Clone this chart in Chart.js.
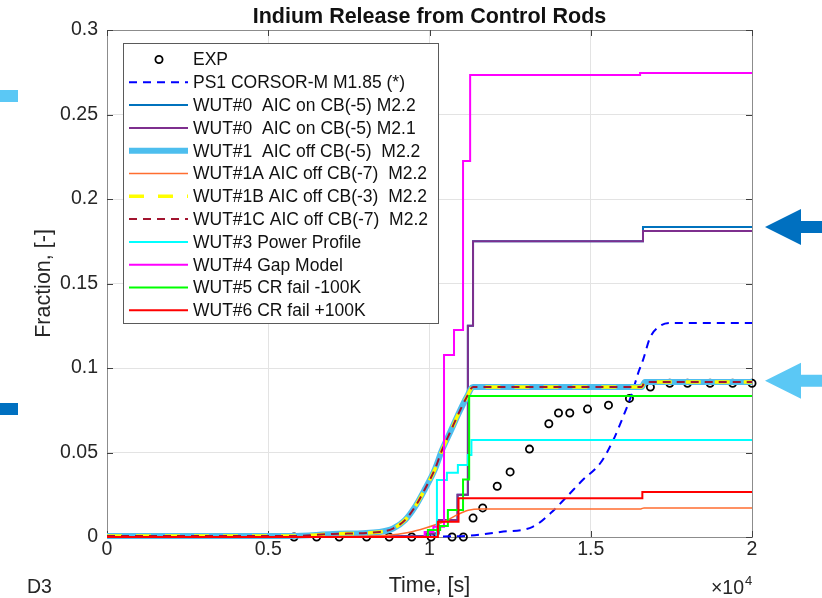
<!DOCTYPE html>
<html>
<head>
<meta charset="utf-8">
<script src="https://cdn.jsdelivr.net/npm/chart.js@4.4.1/dist/chart.umd.min.js"></script>
<style>
  html, body { margin: 0; padding: 0; background: #fff; }
  #wrap { width: 822px; height: 598px; }
</style>
</head>
<body>
<div id="wrap"><canvas id="releaseChart" width="822" height="598"></canvas></div>
<script>
// --- data (time in s, fraction released) ---
const xTickLabels = ['0', '0.5', '1', '1.5', '2'];
const yTickLabels = ['0', '0.05', '0.1', '0.15', '0.2', '0.25', '0.3'];

const expTime = [5800, 6500, 7200, 8050, 8750, 9450, 10050, 10700, 11050, 11350, 11650, 12100, 12500, 13100, 13700, 14000, 14350, 14900, 15550, 16200, 16850, 17450, 18000, 18700, 19400, 20000];
const expFrac = [0, 0, 0, 0, 0, 0, 0, 0, 0, 0.0112, 0.0172, 0.030, 0.0385, 0.052, 0.067, 0.0734, 0.0734, 0.0757, 0.078, 0.082, 0.0887, 0.091, 0.091, 0.091, 0.091, 0.091];

const ps1Time = [0, 10000, 11250, 12200, 13200, 13750, 14250, 14750, 15300, 15700, 16000, 16280, 16470, 16620, 16840, 17100, 17450, 20000];
const ps1Frac = [0, 0.0003, 0.0008, 0.003, 0.006, 0.014, 0.0237, 0.0337, 0.0438, 0.0574, 0.071, 0.085, 0.097, 0.1047, 0.118, 0.1242, 0.1266, 0.1266];

const wut0Time = [0, 9900, 10280, 10870, 11190, 11350, 16620, 20000];
const wut0m22Frac = [0.0005, 0.002, 0.010, 0.025, 0.125, 0.175, 0.1834, 0.1834];
const wut0m21Frac = [0.0005, 0.002, 0.010, 0.025, 0.125, 0.175, 0.181, 0.181];

const wut1Time = [0, 5700, 7000, 8450, 8870, 9240, 9550, 9860, 10170, 10390, 10640, 10950, 11160, 11350, 16580, 16680, 20000];
const wut1Frac = [0.0006, 0.0006, 0.0018, 0.003, 0.005, 0.010, 0.0178, 0.0284, 0.0402, 0.0515, 0.062, 0.075, 0.083, 0.0888, 0.0888, 0.0917, 0.0917];
// 1B and 1C lie right on top of WUT#1
const wut1bFrac = [0.0006, 0.0006, 0.0018, 0.003, 0.005, 0.010, 0.0178, 0.0284, 0.0402, 0.0515, 0.062, 0.075, 0.083, 0.0888, 0.0888, 0.0917, 0.0917];
const wut1cFrac = [0.0006, 0.0006, 0.0018, 0.003, 0.005, 0.010, 0.0178, 0.0284, 0.0402, 0.0515, 0.062, 0.075, 0.083, 0.0888, 0.0888, 0.0917, 0.0917];

const wut1aTime = [0, 7500, 8700, 9300, 9900, 10500, 10900, 11200, 11600, 16550, 16650, 20000];
const wut1aFrac = [0, 0.0003, 0.001, 0.0025, 0.0055, 0.0095, 0.0135, 0.0158, 0.0166, 0.0166, 0.0172, 0.0172];

const wut3Time = [0, 10230, 10540, 10880, 11190, 11300, 20000];
const wut3Frac = [0, 0.0337, 0.038, 0.0426, 0.0485, 0.0574, 0.0574];

const wut4Time = [0, 9850, 10120, 10450, 10760, 11040, 11260, 16530, 20000];
const wut4Frac = [0, 0.003, 0.006, 0.1077, 0.1225, 0.2225, 0.2734, 0.2746, 0.2746];

const wut5Time = [0, 9950, 10330, 10570, 11040, 11230, 20000];
const wut5Frac = [0, 0.0041, 0.0065, 0.016, 0.034, 0.0834, 0.0834];

const wut6Time = [0, 10260, 10900, 16600, 20000];
const wut6Frac = [0, 0.009, 0.023, 0.0266, 0.0266];

const FONT = "'Liberation Sans', Arial, Helvetica, sans-serif";
const TXT = '#262626';

const pts = (t, f) => t.map((v, i) => ({ x: v, y: f[i] }));

// label, points, colour, width, dash, stepped
const seriesDefs = [
    { label: 'EXP', data: pts(expTime, expFrac), marker: true },
    { label: 'PS1 CORSOR-M M1.85 (*)', data: pts(ps1Time, ps1Frac), color: '#0000ff', width: 2, dash: [8, 6] },
    { label: 'WUT#0  AIC on CB(-5) M2.2', data: pts(wut0Time, wut0m22Frac), color: '#0072bd', width: 2, stepped: true },
    { label: 'WUT#0  AIC on CB(-5) M2.1', data: pts(wut0Time, wut0m21Frac), color: '#7e2f8e', width: 2, stepped: true },
    { label: 'WUT#1  AIC off CB(-5)  M2.2', data: pts(wut1Time, wut1Frac), color: '#4dbeee', width: 6 },
    { label: 'WUT#1A AIC off CB(-7)  M2.2', data: pts(wut1aTime, wut1aFrac), color: '#ff6e30', width: 1.5 },
    { label: 'WUT#1B AIC off CB(-3)  M2.2', data: pts(wut1Time, wut1bFrac), color: '#ffff00', width: 3.5, dash: [15, 14] },
    { label: 'WUT#1C AIC off CB(-7)  M2.2', data: pts(wut1Time, wut1cFrac), color: '#a2142f', width: 2, dash: [8, 6] },
    { label: 'WUT#3 Power Profile', data: pts(wut3Time, wut3Frac), color: '#00ffff', width: 2, stepped: true },
    { label: 'WUT#4 Gap Model', data: pts(wut4Time, wut4Frac), color: '#ff00ff', width: 2, stepped: true },
    { label: 'WUT#5 CR fail -100K', data: pts(wut5Time, wut5Frac), color: '#00ff00', width: 2, stepped: true },
    { label: 'WUT#6 CR fail +100K', data: pts(wut6Time, wut6Frac), color: '#ff0000', width: 2, stepped: true }
];

const N = seriesDefs.length;
const datasets = seriesDefs.map((s, i) => {
    if (s.marker) {
        return {
            label: s.label, data: s.data, showLine: false, clip: false,
            pointRadius: 3.6, pointBorderWidth: 1.8, pointBorderColor: '#000',
            pointBackgroundColor: 'rgba(0,0,0,0)', order: N - 1 - i
        };
    }
    return {
        label: s.label, data: s.data, showLine: true, clip: false,
        borderColor: s.color, borderWidth: s.width, borderDash: s.dash || [],
        stepped: s.stepped ? 'before' : false,
        cubicInterpolationMode: s.stepped ? 'default' : 'monotone',
        pointRadius: 0, fill: false, order: N - 1 - i
    };
});

// --- axes box, inward ticks ---
const matlabFrame = {
    id: 'matlabFrame',
    beforeDatasetsDraw(chart) {
        const { ctx, chartArea: a, scales: { x, y } } = chart;
        ctx.save();
        ctx.strokeStyle = '#8c8c8c';
        ctx.lineWidth = 1;
        ctx.strokeRect(a.left + 0.5, a.top + 0.5, a.right - a.left, a.bottom - a.top);
        ctx.strokeStyle = '#404040';
        ctx.beginPath();
        x.ticks.forEach(t => {
            const px = Math.round(x.getPixelForValue(t.value)) + 0.5;
            ctx.moveTo(px, a.bottom); ctx.lineTo(px, a.bottom - 6);
            ctx.moveTo(px, a.top); ctx.lineTo(px, a.top + 6);
        });
        y.ticks.forEach(t => {
            const py = Math.round(y.getPixelForValue(t.value)) + 0.5;
            ctx.moveTo(a.left, py); ctx.lineTo(a.left + 6, py);
            ctx.moveTo(a.right, py); ctx.lineTo(a.right - 6, py);
        });
        ctx.stroke();
        ctx.restore();
    },
    afterDatasetsDraw(chart) {
        const { ctx, chartArea: a, scales: { x, y } } = chart;
        ctx.save();

        // legend box
        const lx = 123, ly = 43, lw = 315, lh = 280;
        ctx.fillStyle = '#fff';
        ctx.fillRect(lx, ly, lw, lh);
        ctx.strokeStyle = '#5a5a5a';
        ctx.lineWidth = 1;
        ctx.strokeRect(lx + 0.5, ly + 0.5, lw, lh);
        ctx.font = `17.5px ${FONT}`;
        ctx.textBaseline = 'middle';
        ctx.textAlign = 'left';
        seriesDefs.forEach((s, i) => {
            const ry = 59.5 + i * 22.8;
            if (s.marker) {
                ctx.beginPath();
                ctx.strokeStyle = '#000';
                ctx.lineWidth = 1.8;
                ctx.arc(159, ry, 3.6, 0, Math.PI * 2);
                ctx.stroke();
            } else {
                ctx.beginPath();
                ctx.strokeStyle = s.color;
                ctx.lineWidth = s.width;
                ctx.setLineDash(s.dash || []);
                ctx.moveTo(129, ry);
                ctx.lineTo(188, ry);
                ctx.stroke();
                ctx.setLineDash([]);
            }
            ctx.fillStyle = '#111';
            ctx.fillText(s.label, 193, ry + 1);
        });

        // title and axis labels
        ctx.fillStyle = '#111';
        ctx.textBaseline = 'alphabetic';
        ctx.textAlign = 'center';
        ctx.font = `bold 21.5px ${FONT}`;
        ctx.fillText('Indium Release from Control Rods', (a.left + a.right) / 2, 23);
        ctx.fillStyle = TXT;
        ctx.font = `21.5px ${FONT}`;
        ctx.fillText('Time, [s]', (a.left + a.right) / 2, 592);
        ctx.save();
        ctx.translate(50, (a.top + a.bottom) / 2);
        ctx.rotate(-Math.PI / 2);
        ctx.fillText('Fraction, [-]', 0, 0);
        ctx.restore();

        ctx.textAlign = 'left';
        ctx.font = `19.5px ${FONT}`;
        ctx.fillText('D3', 27, 593);
        ctx.textAlign = 'right';
        ctx.fillText('\u00d710', 744, 594);
        ctx.textAlign = 'left';
        ctx.font = `13px ${FONT}`;
        ctx.fillText('4', 745, 585);

        // highlight markers outside the axes
        ctx.fillStyle = '#5bc8f5';
        ctx.fillRect(0, 90, 18, 12);
        ctx.fillStyle = '#0070c0';
        ctx.fillRect(0, 403, 18, 12);

        const arrow = (val, col) => {
            const py = y.getPixelForValue(val);
            ctx.fillStyle = col;
            ctx.beginPath();
            ctx.moveTo(765, py);
            ctx.lineTo(801, py - 18);
            ctx.lineTo(801, py - 6);
            ctx.lineTo(822, py - 6);
            ctx.lineTo(822, py + 6);
            ctx.lineTo(801, py + 6);
            ctx.lineTo(801, py + 18);
            ctx.closePath();
            ctx.fill();
        };
        arrow(0.1834, '#0070c0');
        arrow(0.0925, '#5bc8f5');

        ctx.restore();
    }
};

const ctx = document.getElementById('releaseChart').getContext('2d');
new Chart(ctx, {
    type: 'line',
    data: { datasets },
    options: {
        responsive: false,
        animation: false,
        devicePixelRatio: 1,
        layout: { padding: { left: 0, top: 30, right: 70, bottom: 0 } },
        plugins: { legend: { display: false }, tooltip: { enabled: false } },
        scales: {
            x: {
                type: 'linear', min: 0, max: 20000,
                afterFit: s => { s.height = 61; },
                border: { display: false },
                grid: { color: '#e3e3e3', lineWidth: 1, drawTicks: false },
                ticks: {
                    stepSize: 5000, padding: 1, color: TXT, maxRotation: 0,
                    font: { family: FONT, size: 19.5 },
                    callback: (v, i) => xTickLabels[i]
                }
            },
            y: {
                type: 'linear', min: 0, max: 0.3,
                afterFit: s => { s.width = 107; },
                border: { display: false },
                grid: { color: '#e3e3e3', lineWidth: 1, drawTicks: false },
                ticks: {
                    stepSize: 0.05, padding: 9, color: TXT,
                    font: { family: FONT, size: 19.5 },
                    callback: (v, i) => yTickLabels[i]
                }
            }
        }
    },
    plugins: [matlabFrame]
});
</script>
</body>
</html>
